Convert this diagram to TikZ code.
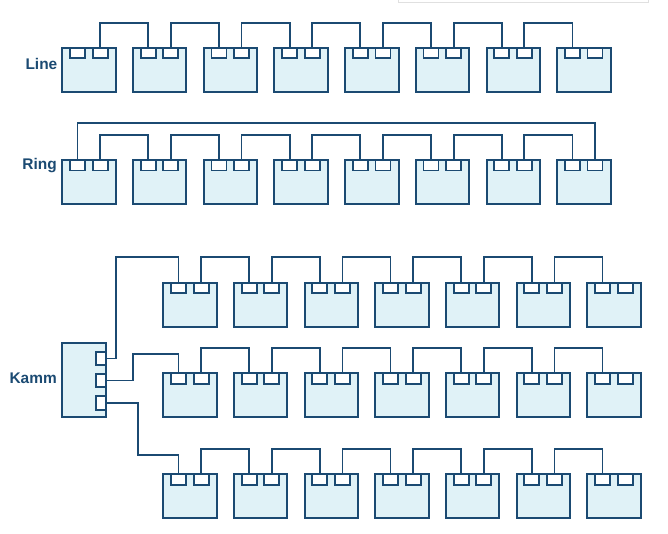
\documentclass[tikz,border=0pt]{standalone}
\usepackage{fontspec}
\setmainfont{Liberation Sans}
\definecolor{navy}{HTML}{1B4A72}
\definecolor{cellfill}{HTML}{E0F2F7}
\begin{document}
\begin{tikzpicture}[x=1bp,y=-1bp,
  unit/.style={draw=navy,fill=cellfill,line width=2bp,minimum width=53.4bp,minimum height=44bp,inner sep=0pt,outer sep=0pt,anchor=north west},
  port/.style={draw=navy,fill=white,line width=1.8bp,minimum width=15bp,minimum height=10.5bp,inner sep=0pt,outer sep=0pt,anchor=north},
  kport/.style={draw=navy,fill=white,line width=1.8bp,minimum width=10.3bp,minimum height=13.7bp,inner sep=0pt,outer sep=0pt,anchor=east},
  wire/.style={draw=navy,line width=1.8bp},
  lbl/.style={font=\bfseries\fontsize{15.5}{18}\selectfont,text=navy,inner sep=0pt,anchor=base east}]
\useasboundingbox (0,0) rectangle (668,534);
\draw[color=black!12,line width=0.8bp] (398,0) -- (398,2.5) -- (648,2.5) -- (648,0);

% labels
\node[lbl] (tline) at (57.5,70) {Line};
\node[lbl] (tring) at (57,170) {Ring};
\node[lbl] (tkamm) at (57,383.3) {Kamm};

% Line row
\foreach \i in {1,...,8}{
  \node[unit] (L\i) at ({62.3+(\i-1)*70.7},47.7) {};
  \node[port] (L\i a) at ([xshift=15.2bp]L\i.north west) {};
  \node[port] (L\i b) at ([xshift=37.8bp]L\i.north west) {};
}
\foreach \i [evaluate=\i as \j using int(\i+1)] in {1,...,7}{
  \draw[wire] (L\i b.north) -- ++(0,-24.4) -| (L\j a.north);
}

% Ring row
\foreach \i in {1,...,8}{
  \node[unit] (R\i) at ({62.3+(\i-1)*70.7},160) {};
  \node[port] (R\i a) at ([xshift=15.2bp]R\i.north west) {};
  \node[port] (R\i b) at ([xshift=37.8bp]R\i.north west) {};
}
\foreach \i [evaluate=\i as \j using int(\i+1)] in {1,...,7}{
  \draw[wire] (R\i b.north) -- ++(0,-25) -| (R\j a.north);
}
\draw[wire] (R1a.north) -- ++(0,-37.3) -| (R8b.north);

% Kamm rows
\foreach \r/\y/\h in {T/282.7/25.4, M/373.3/25.5, B/474.3/25}{
  \foreach \i in {1,...,7}{
    \node[unit] (\r\i) at ({163.3+(\i-1)*70.67},\y) {};
    \node[port] (\r\i a) at ([xshift=15.2bp]\r\i.north west) {};
    \node[port] (\r\i b) at ([xshift=37.8bp]\r\i.north west) {};
  }
  \foreach \i [evaluate=\i as \j using int(\i+1)] in {1,...,6}{
    \draw[wire] (\r\i b.north) -- ++(0,-\h) -| (\r\j a.north);
  }
}

% Kamm master
\node[unit,minimum width=44.3bp,minimum height=73.4bp] (K) at (61.7,343.3) {};
\node[kport] (K1) at (106,358.5) {};
\node[kport] (K2) at (106,380.5) {};
\node[kport] (K3) at (106,403) {};
\draw[wire] (K1.east) -| (116,257.3) -| (T1a.north);
\draw[wire] (K2.east) -| (133.3,354.3) -| (M1a.north);
\draw[wire] (K3.east) -| (138.3,455) -| (B1a.north);
\end{tikzpicture}
\end{document}
